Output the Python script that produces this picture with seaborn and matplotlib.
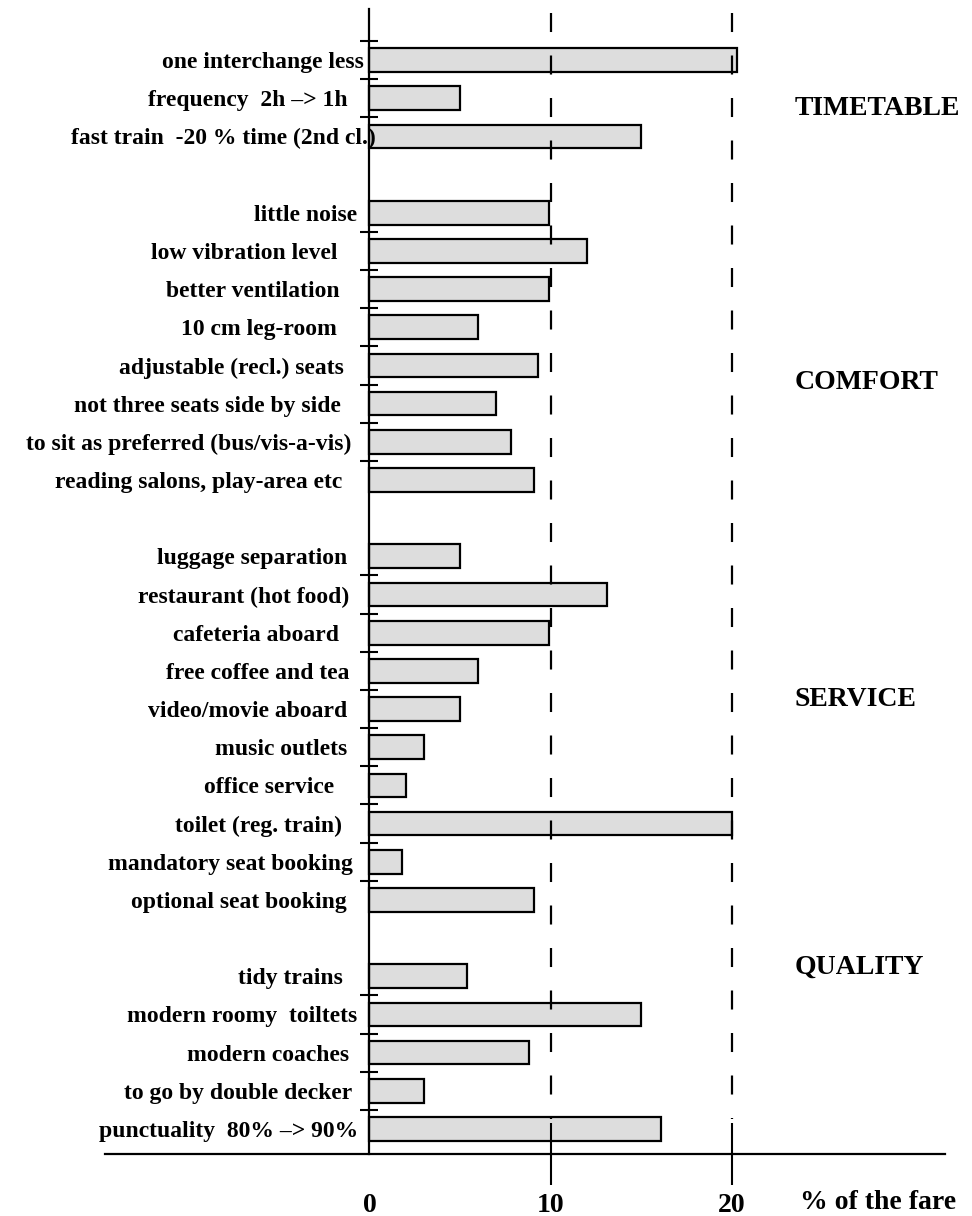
import numpy as np
import pandas as pd
import matplotlib
matplotlib.use('Agg')
import matplotlib.pyplot as plt
import seaborn as sns

# items top to bottom, '' entries are the gaps between the groups
items = ['one interchange less', 'frequency  2h \u2013> 1h', 'fast train  -20 % time (2nd cl.)', '',
         'little noise', 'low vibration level', 'better ventilation', '10 cm leg-room',
         'adjustable (recl.) seats', 'not three seats side by side',
         'to sit as preferred (bus/vis-a-vis)', 'reading salons, play-area etc', ' ',
         'luggage separation', 'restaurant (hot food)', 'cafeteria aboard', 'free coffee and tea',
         'video/movie aboard', 'music outlets', 'office service', 'toilet (reg. train)',
         'mandatory seat booking', 'optional seat booking', '  ',
         'tidy trains', 'modern roomy  toiltets', 'modern coaches', 'to go by double decker',
         'punctuality  80% \u2013> 90%']
values = [20.3, 5.0, 15.0, np.nan,
          9.9, 12.0, 9.9, 6.0, 9.3, 7.0, 7.8, 9.1, np.nan,
          5.0, 13.1, 9.9, 6.0, 5.0, 3.0, 2.0, 20.0, 1.8, 9.1, np.nan,
          5.4, 15.0, 8.8, 3.0, 16.1]
groups = ['TIMETABLE', 'COMFORT', 'SERVICE', 'QUALITY']
group_rows = [1.26, 8.46, 16.76, 23.76]
ticks = [0, 10, 20]

# gap (px) between each label's right end and the zero line
label_gap = [6, 22, -6, 0,
             12, 32, 30, 33, 26, 29, 18, 27, 0,
             22, 20, 30, 20, 22, 22, 35, 27, 17, 23, 0,
             27, 12, 20, 17, 11]

df = pd.DataFrame({'item': items, 'value': values})

plt.rcParams['font.family'] = 'Liberation Serif'
plt.rcParams['font.weight'] = 'bold'
plt.rcParams['lines.scale_dashes'] = False

fig = plt.figure(figsize=(9.72, 12.16), dpi=100)
ax = fig.add_axes([0.108, 0.051, 0.864, 0.9416])

sns.barplot(data=df, x='value', y='item', order=items, orient='h', width=0.62,
            color='#dddddd', saturation=1, edgecolor='black', linewidth=1.6,
            errorbar=None, ax=ax)

ax.set_xlim(-14.59, 31.74)
ax.set_ylim(28.655, -1.336)
ax.set_xlabel('')
ax.set_ylabel('')

# dashed reference lines at 10 and 20
for x in ticks[1:]:
    ax.plot([x, x], [0.9965, 0.0306], transform=ax.get_xaxis_transform(),
            color='black', lw=1.6, linestyle=(0, (13.7, 16.9)), zorder=4)

for s in ['top', 'right']:
    ax.spines[s].set_visible(False)
ax.spines['left'].set_position(('data', 0))
ax.spines['left'].set_linewidth(1.6)
ax.spines['bottom'].set_linewidth(1.6)

# y ticks at the boundaries between neighbouring bars
present = [not np.isnan(v) for v in values]
ypos = [-0.5] + [i - 0.5 for i in range(1, len(items)) if present[i] and present[i - 1]]
ax.set_yticks(ypos)
ax.set_yticklabels([])
ax.tick_params(axis='y', direction='inout', length=13, width=1.5)

ax.set_xticks(ticks)
ax.set_xticklabels([str(t) for t in ticks], fontsize=20, fontweight='bold')
ax.tick_params(axis='x', direction='inout', length=44, width=1.5, pad=6)
ax.xaxis.get_major_ticks()[0].tick1line.set_visible(False)

for i, (name, gap) in enumerate(zip(items, label_gap)):
    if name.strip():
        ax.annotate(name, xy=(0, i), xytext=(-gap, 0), textcoords='offset pixels',
                    ha='right', va='center_baseline', fontsize=17, fontweight='bold', zorder=5)

for g, r in zip(groups, group_rows):
    ax.text(23.47, r, g, ha='left', va='center', fontsize=20, fontweight='bold')

ax.text(23.75, -0.042, '% of the fare', transform=ax.get_xaxis_transform(),
        ha='left', va='center', fontsize=20, fontweight='bold')

fig.savefig('out.png', dpi=100)
